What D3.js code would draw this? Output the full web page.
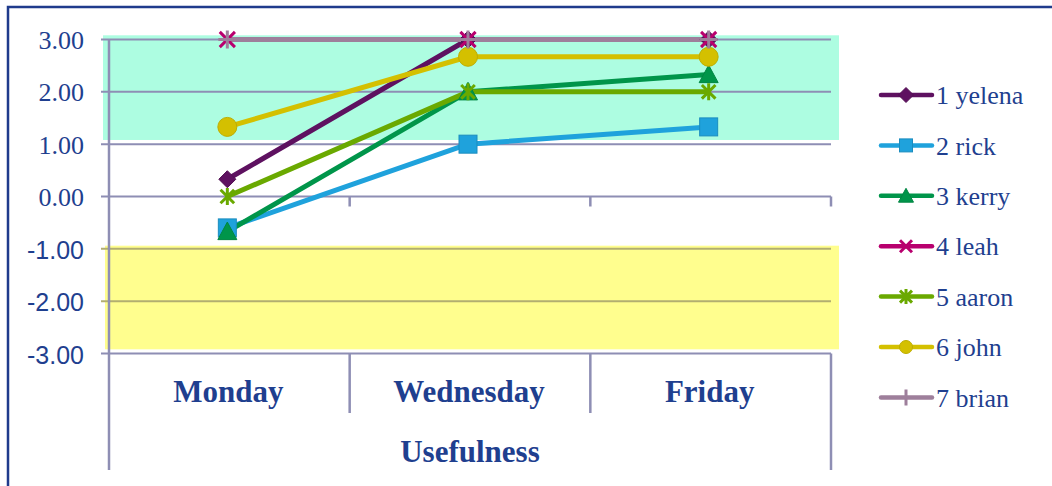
<!DOCTYPE html>
<html><head><meta charset="utf-8">
<script src="https://cdn.jsdelivr.net/npm/d3@7"></script>
<style>html,body{margin:0;padding:0;background:#fff;} svg{display:block}</style>
</head><body><svg id="chart" width="1052" height="486"></svg>
<script>
// Categories, series and tick labels
const days = ["Monday", "Wednesday", "Friday"];
const groupLabel = "Usefulness";
const names = ["1 yelena", "2 rick", "3 kerry", "4 leah", "5 aaron", "6 john", "7 brian"];
const yelena = [0.33, 3, 3];
const rick = [-0.6, 1, 1.33];
const kerry = [-0.67, 2, 2.33];
const leah = [3, 3, 3];
const aaron = [0, 2, 2];
const john = [1.33, 2.67, 2.67];
const brian = [3, 3, 3];
const yTicks = [3, 2, 1, 0, -1, -2, -3];
const goodZone = [1.08, 3.08];
const weakZone = [-2.92, -0.94];

const seriesValues = [yelena, rick, kerry, leah, aaron, john, brian];
const colors = ["#5e1160", "#1fa2dc", "#00954a", "#b8006e", "#6aa900", "#d4c000", "#9e7f9b"];
const shapes = ["diamond", "square", "triangle", "x", "star", "circle", "plus"];

const svg = d3.select("#chart");
const W = 1052, H = 486;
const x = d3.scaleBand().domain(days).range([109, 831]);
const y = d3.scaleLinear().domain([-3, 3]).range([353.5, 39.5]);
const textBlue = "#1f3f8f";
const axisCol = "#8e8eb4";
const gridInYellow = "#b2ae70";
const fmt = v => d3.format(".2f")(v).replace("\u2212", "-");

svg.append("rect").attr("width", W).attr("height", H).attr("fill", "#fff");

// shaded zones
const [x0, x1] = x.range();
svg.append("rect").attr("x", x0 - 6).attr("width", x1 - x0 + 14)
  .attr("y", y(goodZone[1])).attr("height", y(goodZone[0]) - y(goodZone[1]))
  .attr("fill", "#adfde1");
svg.append("rect").attr("x", x0 - 4).attr("width", x1 - x0 + 12)
  .attr("y", y(weakZone[1])).attr("height", y(weakZone[0]) - y(weakZone[1]))
  .attr("fill", "#fffe8e");

// horizontal gridlines with tick marks
const grid = svg.append("g");
yTicks.forEach(v => {
  const inWeak = v > weakZone[0] && v < weakZone[1];
  grid.append("line").attr("x1", x0 - 8).attr("x2", x1)
    .attr("y1", y(v)).attr("y2", y(v))
    .attr("stroke", inWeak ? gridInYellow : axisCol).attr("stroke-width", 2);
});

// y axis labels (positive values serif, negatives sans)
yTicks.forEach(v => {
  svg.append("text")
    .attr("x", 84).attr("y", y(v))
    .attr("dy", v < 0 ? "0.4em" : "0.37em")
    .attr("text-anchor", "end")
    .attr("font-family", v < 0 ? "'Liberation Sans', Arial, sans-serif" : "'Liberation Serif', 'Times New Roman', serif")
    .attr("font-size", v < 0 ? 25 : 26)
    .attr("fill", textBlue)
    .text(fmt(v));
});

// axis frame
const ax = svg.append("g").attr("stroke", axisCol).attr("stroke-width", 2.5).attr("fill", "none");
ax.append("line").attr("x1", x0).attr("x2", x0).attr("y1", y(3)).attr("y2", 470);
ax.append("line").attr("x1", x1).attr("x2", x1).attr("y1", y(-3)).attr("y2", 470);
days.slice(1).forEach(d => {
  ax.append("line").attr("x1", x(d)).attr("x2", x(d)).attr("y1", y(-3)).attr("y2", 413);
  ax.append("line").attr("x1", x(d)).attr("x2", x(d)).attr("y1", y(0)).attr("y2", y(0) + 10);
});
ax.append("line").attr("x1", x1).attr("x2", x1).attr("y1", y(0)).attr("y2", y(0) + 10);

// category labels
svg.selectAll(".day").data(days).join("text")
  .attr("x", d => x(d) + x.bandwidth() / 2 - 1).attr("y", 402)
  .attr("text-anchor", "middle")
  .attr("font-family", "'Liberation Serif', 'Times New Roman', serif")
  .attr("font-weight", "bold").attr("font-size", 31).attr("fill", textBlue)
  .text(d => d);
svg.append("text").attr("x", (x0 + x1) / 2).attr("y", 461.5)
  .attr("text-anchor", "middle")
  .attr("font-family", "'Liberation Serif', 'Times New Roman', serif")
  .attr("font-weight", "bold").attr("font-size", 31).attr("fill", textBlue)
  .text(groupLabel);

// marker drawing
function marker(g, shape, color, s) {
  const h = s / 2;
  if (shape === "diamond") {
    g.append("path").attr("d", `M0,${-h}L${h},0L0,${h}L${-h},0Z`).attr("fill", color).attr("stroke", d3.color(color).darker(0.4)).attr("stroke-width", 1);
  } else if (shape === "square") {
    g.append("rect").attr("x", -h).attr("y", -h).attr("width", s).attr("height", s).attr("fill", color).attr("stroke", d3.color(color).darker(0.4)).attr("stroke-width", 1);
  } else if (shape === "triangle") {
    g.append("path").attr("d", `M0,${-h}L${h},${h * 0.85}L${-h},${h * 0.85}Z`).attr("fill", color).attr("stroke", d3.color(color).darker(0.3)).attr("stroke-width", 1);
  } else if (shape === "circle") {
    g.append("circle").attr("r", h).attr("fill", color).attr("stroke", d3.color(color).darker(0.3)).attr("stroke-width", 1);
  } else {
    let d = "";
    const k = h * 0.8;
    if (shape === "x" || shape === "star") d += `M${-k},${-k}L${k},${k}M${-k},${k}L${k},${-k}`;
    if (shape === "star") d += `M0,${-h}L0,${h}`;
    if (shape === "plus") d += `M${-h},0L${h},0M0,${-h}L0,${h}`;
    g.append("path").attr("d", d).attr("stroke", color).attr("stroke-width", 3).attr("fill", "none");
  }
}

// series lines
const cx = d => x(d) + x.bandwidth() / 2 - 2;
const lineGen = d3.line().x(d => cx(d.day)).y(d => y(d.v));
const seriesData = seriesValues.map(vals => vals.map((v, i) => ({ day: days[i], v })));
seriesData.forEach((pts, i) => {
  svg.append("path").datum(pts).attr("d", lineGen)
    .attr("fill", "none").attr("stroke", colors[i]).attr("stroke-width", 5)
    .attr("stroke-linejoin", "round");
});
const plotSizes = [17, 18, 19, 19, 17, 19, 18];
seriesData.forEach((pts, i) => {
  pts.forEach(p => {
    const g = svg.append("g").attr("transform", `translate(${cx(p.day)},${y(p.v)})`);
    marker(g, shapes[i], colors[i], plotSizes[i]);
  });
});

// legend
const legendSizes = [15, 13, 15, 15, 15, 13, 16];
const leg = svg.append("g");
names.forEach((n, i) => {
  const ly = 95 + i * 50.4;
  leg.append("line").attr("x1", 881).attr("x2", 932).attr("y1", ly).attr("y2", ly)
    .attr("stroke", colors[i]).attr("stroke-width", 4.5).attr("stroke-linecap", "round");
  const g = leg.append("g").attr("transform", `translate(906,${ly})`);
  marker(g, shapes[i], colors[i], legendSizes[i]);
  leg.append("text").attr("x", 936).attr("y", ly).attr("dy", "0.35em")
    .attr("font-family", "'Liberation Serif', 'Times New Roman', serif")
    .attr("font-size", 26).attr("fill", textBlue).text(n);
});

// outer frame
svg.append("rect").attr("x", 8).attr("y", 7).attr("width", 1100).attr("height", 600)
  .attr("fill", "none").attr("stroke", "#1f3b8c").attr("stroke-width", 2.5);
</script>
</body></html>
